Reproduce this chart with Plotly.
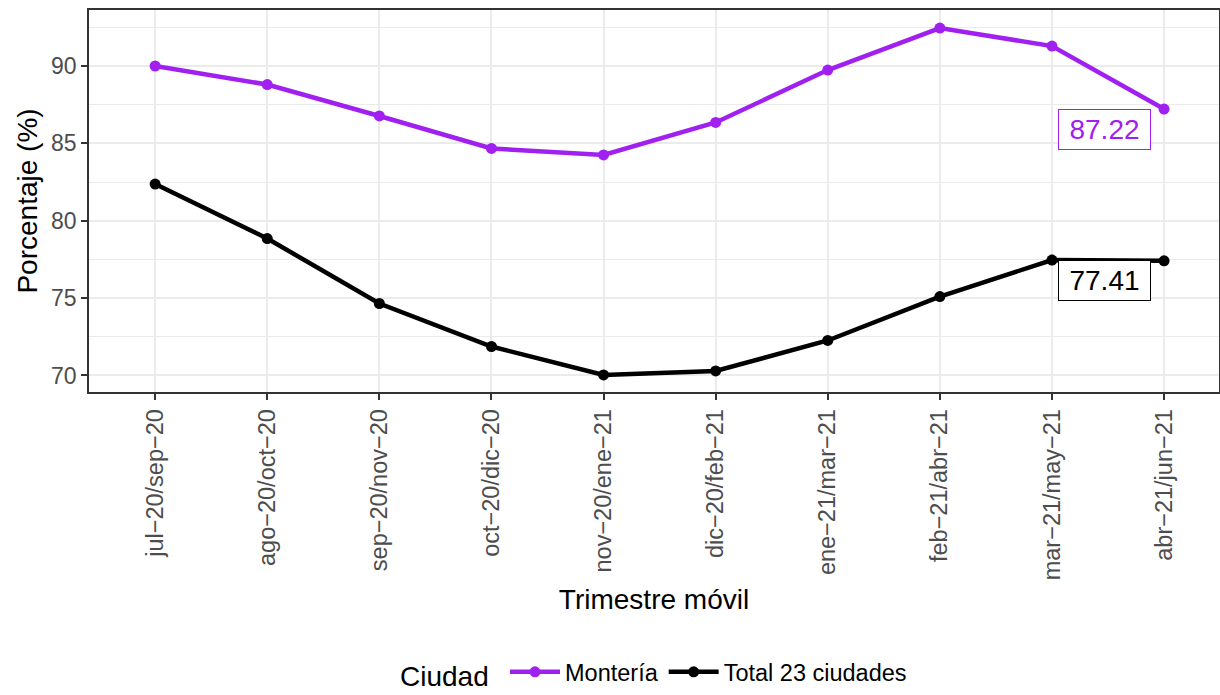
import plotly.graph_objects as go

categorias = ["jul−20/sep−20", "ago−20/oct−20", "sep−20/nov−20", "oct−20/dic−20",
              "nov−20/ene−21", "dic−20/feb−21", "ene−21/mar−21", "feb−21/abr−21",
              "mar−21/may−21", "abr−21/jun−21"]
monteria = [90.0, 88.8, 86.77, 84.67, 84.25, 86.35, 89.74, 92.45, 91.29, 87.22]
total23 = [82.37, 78.85, 74.65, 71.87, 70.03, 70.29, 72.26, 75.1, 77.46, 77.41]
series_names = ["Montería", "Total 23 ciudades"]
colors = ["#A020F0", "#000000"]

FONT = "Liberation Sans, Arial, sans-serif"
idx = list(range(len(categorias)))

fig = go.Figure()
for name, vals, col in zip(series_names, [monteria, total23], colors):
    fig.add_trace(go.Scatter(
        x=idx, y=vals, mode="lines+markers", name=name,
        line=dict(color=col, width=4.5), marker=dict(color=col, size=11),
    ))
    fig.add_annotation(
        x=idx[-1], y=vals[-1], xref="x", yref="y", text=f"{vals[-1]:.2f}",
        showarrow=False, xshift=-60, yshift=-20, width=81, height=29,
        font=dict(family=FONT, size=28, color=col),
        bordercolor=col, borderwidth=1, borderpad=5, bgcolor="white",
    )

# legend title drawn as text so the legend fits inside the figure
fig.add_annotation(
    x=(444 - 89) / 1130, y=(392 - 694) / 382, xref="paper", yref="paper",
    xanchor="center", yanchor="bottom", text="Ciudad", showarrow=False,
    font=dict(family=FONT, size=28, color="#000000"),
)

fig.update_layout(
    width=1220, height=695,
    margin=dict(l=89, r=1, t=10, b=303),
    paper_bgcolor="white", plot_bgcolor="white",
    font=dict(family=FONT, color="#000000"),
    showlegend=True,
    legend=dict(
        orientation="h", x=(505 - 89) / 1130, xanchor="left",
        y=(392 - 694) / 382, yanchor="bottom",
        font=dict(size=23.5, family=FONT, color="#000000"),
        itemwidth=50, tracegroupgap=0,
    ),
)

fig.update_xaxes(
    range=[-0.59, 9.49], tickmode="array", tickvals=idx, ticktext=categorias,
    tickangle=-90, tickfont=dict(size=23.5, color="#4D4D4D", family=FONT),
    ticks="outside", ticklen=6, tickcolor="#333333", tickwidth=1.5,
    showgrid=True, gridcolor="#EBEBEB", gridwidth=1.5,
    showline=True, linecolor="#333333", linewidth=1.5, mirror=True,
    zeroline=False,
    title=dict(text="Trimestre móvil", font=dict(size=28, color="#000000", family=FONT), standoff=10),
    automargin=False,
)
fig.update_yaxes(
    range=[68.93, 93.62], tickvals=[70, 75, 80, 85, 90],
    tickfont=dict(size=23, color="#4D4D4D", family=FONT),
    ticks="outside", ticklen=6, tickcolor="#333333", tickwidth=1.5,
    showgrid=True, gridcolor="#EBEBEB", gridwidth=1.5,
    minor=dict(tickvals=[72.5, 77.5, 82.5, 87.5, 92.5], showgrid=True, gridcolor="#EBEBEB", gridwidth=0.8),
    showline=True, linecolor="#333333", linewidth=1.5, mirror=True,
    zeroline=False,
    title=dict(text="Porcentaje (%)", font=dict(size=28, color="#000000", family=FONT), standoff=5),
    automargin=False,
)

fig.write_html(
    "out.html",
    config={"displayModeBar": False},
    post_script="document.body.style.margin='0';document.documentElement.style.overflow='hidden';",
)
